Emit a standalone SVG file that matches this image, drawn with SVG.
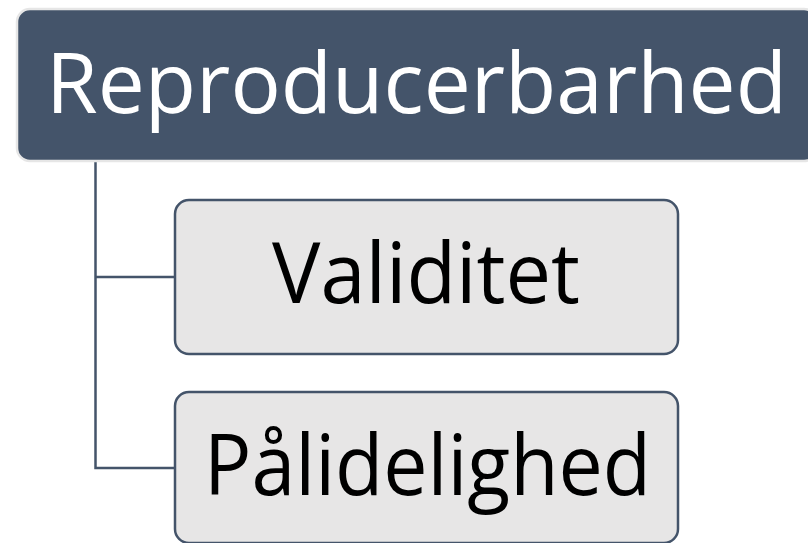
<svg xmlns="http://www.w3.org/2000/svg" width="808" height="543" viewBox="0 0 808 543">
<style>
.conn{fill:none;stroke:#44546A;stroke-width:2.5}
.child rect{fill:#E7E6E6;stroke:#44546A;stroke-width:2.5}
.child text{fill:#000;font-family:"Open Sans","Liberation Sans",sans-serif;font-size:85px}
.root rect{fill:#44546A;stroke:#E6E6E6;stroke-width:2.5}
.root text{fill:#fff;font-family:"Open Sans","Liberation Sans",sans-serif;font-size:85px}
</style>
<rect width="808" height="543" fill="#fff"/>
<g id="connectors">
<path class="conn" d="M95.5 161 V468 H175"/>
<path class="conn" d="M95.5 277 H175"/>
</g>
<g id="node-root" class="root">
<rect x="17" y="9" width="800" height="152" rx="13"/>
<text x="46" y="113" textLength="741" lengthAdjust="spacingAndGlyphs">Reproducerbarhed</text>
</g>
<g id="node-validitet" class="child">
<rect x="175" y="200" width="503" height="154" rx="14"/>
<text x="272" y="303" textLength="308" lengthAdjust="spacingAndGlyphs">Validitet</text>
</g>
<g id="node-palidelighed" class="child">
<rect x="175" y="392" width="503" height="151" rx="14"/>
<text x="204" y="495" textLength="447" lengthAdjust="spacingAndGlyphs">Pålidelighed</text>
</g>
</svg>
